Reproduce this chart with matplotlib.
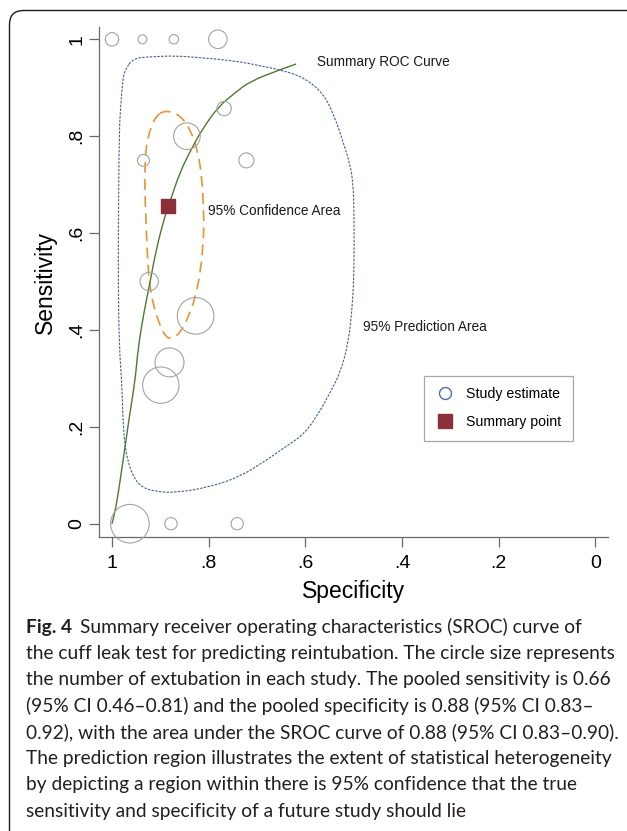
import matplotlib
matplotlib.use('Agg')
import matplotlib.pyplot as plt
from matplotlib.patches import FancyBboxPatch, PathPatch
from matplotlib.path import Path
from matplotlib.lines import Line2D
from matplotlib.transforms import IdentityTransform
import numpy as np

# ---------------- data ----------------
study_spec = [1.000, 0.937, 0.872, 0.781, 0.768, 0.845, 0.935, 0.722, 0.923, 0.827, 0.881, 0.899, 0.963, 0.878, 0.741]
study_sens = [1.000, 1.000, 1.000, 1.000, 0.857, 0.800, 0.750, 0.750, 0.500, 0.429, 0.333, 0.286, 0.000, 0.000, 0.000]
study_weight = [45, 20, 22, 86, 52, 177, 36, 56, 85, 335, 210, 331, 372, 38, 38]

summary_spec = 0.884
summary_sens = 0.656

sroc_spec = [1.000, 0.992, 0.983, 0.973, 0.963, 0.952, 0.946, 0.935, 0.921, 0.908, 0.890, 0.880,
             0.859, 0.835, 0.814, 0.780, 0.746, 0.715, 0.653, 0.619]
sroc_sens = [0.000, 0.032, 0.090, 0.159, 0.228, 0.297, 0.362, 0.431, 0.500, 0.569, 0.637, 0.665,
             0.727, 0.775, 0.813, 0.861, 0.889, 0.913, 0.937, 0.949]

conf_spec = [0.890, 0.859, 0.835, 0.821, 0.814, 0.811, 0.810, 0.811, 0.817, 0.828, 0.842, 0.859,
             0.877, 0.890, 0.901, 0.915, 0.923, 0.927, 0.930, 0.932, 0.932, 0.927, 0.911, 0.890]
conf_sens = [0.854, 0.844, 0.809, 0.761, 0.713, 0.658, 0.617, 0.582, 0.520, 0.465, 0.427, 0.393,
             0.381, 0.387, 0.410, 0.452, 0.500, 0.555, 0.637, 0.679, 0.747, 0.796, 0.840, 0.854]

pred_spec = [0.956, 0.921, 0.866, 0.818, 0.749, 0.701, 0.652, 0.604, 0.563, 0.539, 0.521, 0.508,
             0.501, 0.499, 0.499, 0.502, 0.511, 0.528, 0.549, 0.578, 0.605, 0.632, 0.679, 0.735,
             0.797, 0.866, 0.908, 0.939, 0.956, 0.966, 0.973, 0.977, 0.980, 0.985, 0.987, 0.987,
             0.985, 0.982, 0.978, 0.973, 0.956]
pred_sens = [0.961, 0.964, 0.966, 0.962, 0.956, 0.947, 0.937, 0.922, 0.889, 0.840, 0.785, 0.744,
             0.703, 0.634, 0.531, 0.455, 0.372, 0.311, 0.270, 0.218, 0.183, 0.165, 0.132, 0.097,
             0.076, 0.064, 0.066, 0.075, 0.097, 0.125, 0.159, 0.207, 0.297, 0.365, 0.489, 0.600,
             0.813, 0.861, 0.916, 0.937, 0.961]

x_ticks = [1.0, 0.8, 0.6, 0.4, 0.2, 0.0]
x_ticklabels = ['1', '.8', '.6', '.4', '.2', '0']
y_ticks = [0.0, 0.2, 0.4, 0.6, 0.8, 1.0]
y_ticklabels = ['0', '.2', '.4', '.6', '.8', '1']

caption_bold = 'Fig. 4'
caption_lines = [
    'Summary receiver operating characteristics (SROC) curve of',
    'the cuff leak test for predicting reintubation. The circle size represents',
    'the number of extubation in each study. The pooled sensitivity is 0.66',
    '(95% CI 0.46\u20130.81) and the pooled specificity is 0.88 (95% CI 0.83\u2013',
    '0.92), with the area under the SROC curve of 0.88 (95% CI 0.83\u20130.90).',
    'The prediction region illustrates the extent of statistical heterogeneity',
    'by depicting a region within there is 95% confidence that the true',
    'sensitivity and specificity of a future study should lie',
]


def smooth_path(xs, ys, closed=False):
    """Quadratic Bezier path using the traced points as control points."""
    pts = np.column_stack([xs, ys]).astype(float)
    if closed:
        if np.allclose(pts[0], pts[-1]):
            pts = pts[:-1]
        n = len(pts)
        mids = [(pts[i] + pts[(i + 1) % n]) / 2 for i in range(n)]
        verts = [mids[-1]]
        codes = [Path.MOVETO]
        for i in range(n):
            verts += [pts[i], mids[i]]
            codes += [Path.CURVE3, Path.CURVE3]
        return Path(verts, codes)
    n = len(pts)
    verts = [pts[0], (pts[0] + pts[1]) / 2]
    codes = [Path.MOVETO, Path.LINETO]
    for i in range(1, n - 1):
        verts += [pts[i], (pts[i] + pts[i + 1]) / 2]
        codes += [Path.CURVE3, Path.CURVE3]
    verts.append(pts[-1])
    codes.append(Path.LINETO)
    return Path(verts, codes)


# ---------------- figure ----------------
W, H = 627, 831
fig = plt.figure(figsize=(W / 100, H / 100), dpi=100)
fig.patch.set_facecolor('white')

SANS = ['Liberation Sans', 'DejaVu Sans']

frame = FancyBboxPatch((9.5, -30), W + 30, (H - 10.5) + 30,
                       boxstyle='round,pad=0,rounding_size=14',
                       transform=IdentityTransform(), fill=False,
                       edgecolor='#1a1a1a', linewidth=1.0, zorder=0)
fig.patches.append(frame)

ax_l, ax_r, ax_t, ax_b = 99, 608, 27, 537
ax = fig.add_axes([ax_l / W, 1 - ax_b / H, (ax_r - ax_l) / W, (ax_b - ax_t) / H])
ax.set_xlim(1.0269, -0.0263)
ax.set_ylim(-0.0275, 1.0254)
ax.set_facecolor('none')

for s in ['top', 'right']:
    ax.spines[s].set_visible(False)
for s in ['left', 'bottom']:
    ax.spines[s].set_color('#6a6a6a')
    ax.spines[s].set_linewidth(0.9)

ax.set_xticks(x_ticks)
ax.set_xticklabels(x_ticklabels, fontsize=14, family=SANS)
ax.set_yticks(y_ticks)
ax.set_yticklabels(y_ticklabels, fontsize=14, family=SANS, rotation=90, va='center', ha='right')
ax.tick_params(axis='both', direction='out', length=7, width=0.9, color='#6a6a6a')
ax.tick_params(axis='x', pad=6)
ax.tick_params(axis='y', pad=3)

ax.set_xlabel('Specificity', fontsize=16.5, family=SANS, labelpad=6)
ax.set_ylabel('Sensitivity', fontsize=16.5, family=SANS, labelpad=8)

# prediction region
ax.add_patch(PathPatch(smooth_path(pred_spec, pred_sens, closed=True), fill=False,
                       edgecolor='#3d5fa6', lw=0.8, linestyle=(0, (2.2, 1.2)), zorder=2))
# confidence region
ax.add_patch(PathPatch(smooth_path(conf_spec, conf_sens, closed=True), fill=False,
                       edgecolor='#f0922b', lw=1.2, linestyle=(0, (6.5, 3.8)), zorder=2))
# SROC curve
ax.add_patch(PathPatch(smooth_path(sroc_spec, sroc_sens), fill=False,
                       edgecolor='#4d7a2c', lw=1.0, zorder=3))

# study estimates
sizes = np.array(study_weight) * 2.07
ax.scatter(study_spec, study_sens, s=sizes, facecolors='none', edgecolors='#a3a3a3',
           linewidths=0.8, zorder=4, clip_on=False)
# summary point
ax.scatter([summary_spec], [summary_sens], marker='s', s=112, color='#8b2f3b',
           edgecolors='#8b2f3b', zorder=5)

ax.text(0.575, 0.954, 'Summary ROC Curve', fontsize=9.8, family=SANS, ha='left', va='center', color='#1a1a1a')
ax.text(0.801, 0.646, '95% Confidence Area', fontsize=9.8, family=SANS, ha='left', va='center', color='#1a1a1a')
ax.text(0.481, 0.407, '95% Prediction Area', fontsize=9.8, family=SANS, ha='left', va='center', color='#1a1a1a')

handles = [
    Line2D([], [], marker='o', ls='', mfc='white', mec='#4a6fb5', ms=8.6, mew=1.0),
    Line2D([], [], marker='s', ls='', mfc='#8b2f3b', mec='#8b2f3b', ms=10.5),
]
leg = ax.legend(handles, ['Study estimate', 'Summary point'], loc='upper left',
                bbox_to_anchor=(424.3 / W, 1 - 375.7 / H), bbox_transform=fig.transFigure,
                borderaxespad=0, fancybox=False, framealpha=1, edgecolor='#a8a8a8',
                prop={'family': SANS, 'size': 10.2}, borderpad=0.8, labelspacing=1.0,
                handlelength=1.3, handletextpad=0.85)
leg.get_frame().set_linewidth(0.9)

# ---------------- caption ----------------
fig.canvas.draw()
renderer = fig.canvas.get_renderer()
CAP_FONT = ['Lato', 'DejaVu Sans']
probe = fig.text(0, 0, caption_lines[5], fontsize=10, family=CAP_FONT)
w_probe = probe.get_window_extent(renderer).width
probe.remove()
cap_size = 10 * 589 / w_probe

x0 = 26.5
y_first = 627
dy = 26.3
cap_color = '#231f20'
tb = fig.text(x0 / W, 1 - y_first / H, caption_bold, fontsize=cap_size, family=CAP_FONT,
              weight='bold', va='center', ha='left', color=cap_color)
wb = tb.get_window_extent(renderer).width
fig.text((x0 + wb + 7) / W, 1 - y_first / H, caption_lines[0], fontsize=cap_size, family=CAP_FONT,
         va='center', ha='left', color=cap_color)
for i, line in enumerate(caption_lines[1:], start=1):
    fig.text(x0 / W, 1 - (y_first + i * dy) / H, line, fontsize=cap_size, family=CAP_FONT,
             va='center', ha='left', color=cap_color)

fig.savefig('out.png', dpi=100, facecolor='white')
